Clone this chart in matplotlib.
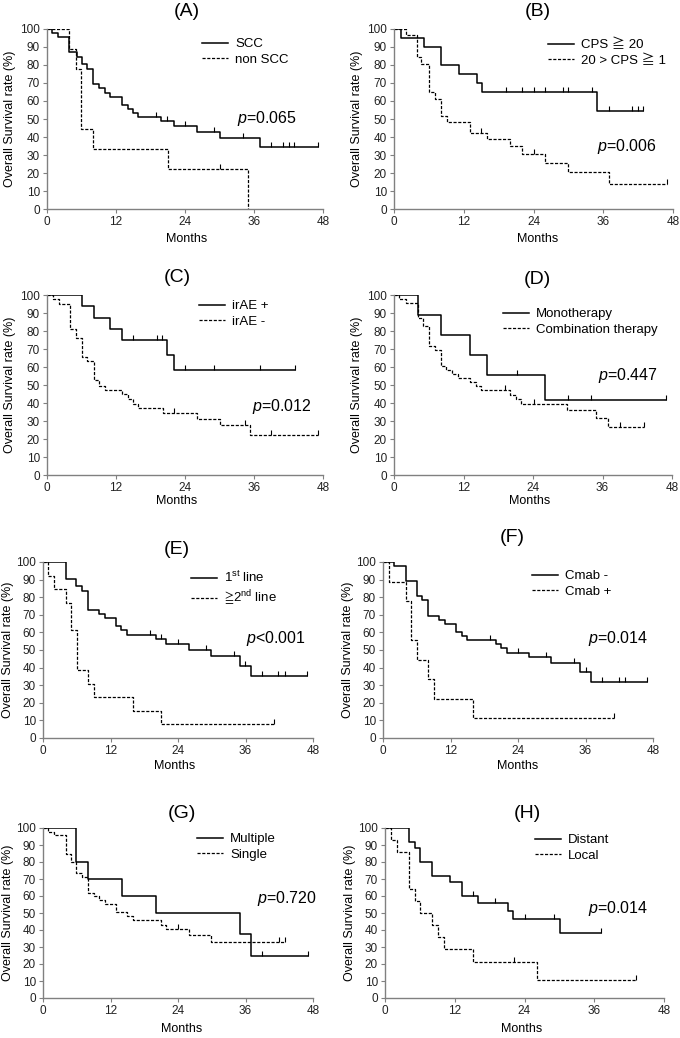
import numpy as np
import matplotlib
matplotlib.use("Agg")
import matplotlib.pyplot as plt

plt.rcParams['font.family'] = ['Liberation Sans', 'Noto Sans CJK JP', 'DejaVu Sans']
plt.rcParams['mathtext.fontset'] = 'custom'
plt.rcParams['mathtext.rm'] = 'Liberation Sans'
plt.rcParams['mathtext.it'] = 'Liberation Sans:italic'
plt.rcParams['mathtext.fallback'] = 'stixsans'

# ---- data: event times (months), survival after each event (%), censor times ----
# (A) SCC vs non SCC
a_solid_t = [0.9, 1.85, 3.9, 5.2, 6.1, 6.9, 8.0, 9.1, 10.0, 10.9, 13.1, 14.0, 14.9, 15.9, 19.9, 22.0, 26.0, 30.0, 37.1]
a_solid_s = [97.8, 95.6, 87.0, 84.6, 80.5, 78.0, 69.3, 67.1, 64.6, 62.4, 57.9, 55.7, 53.5, 51.2, 48.9, 46.0, 42.7, 39.4, 34.2]
a_solid_c = [19.0, 20.8, 24.0, 29.0, 34.0, 39.0, 41.0, 42.0, 43.0, 47.1]
a_dash_t = [3.9, 5.0, 5.9, 8.0, 21.0, 35.0]
a_dash_s = [88.9, 77.8, 44.4, 33.3, 22.2, 0.0]
a_dash_c = [30.0]

# (B) CPS
b_solid_t = [1.15, 5.1, 8.1, 11.1, 14.2, 15.1, 35.0]
b_solid_s = [95.0, 90.0, 80.0, 75.0, 70.0, 65.0, 54.2]
b_solid_c = [19.2, 22.0, 24.1, 26.0, 29.0, 30.0, 34.0, 37.0, 40.9, 41.9, 42.8]
b_dash_t = [2.0, 4.0, 4.6, 6.0, 7.1, 8.1, 9.1, 13.1, 16.0, 20.0, 22.0, 26.0, 30.0, 37.0]
b_dash_s = [96.8, 84.4, 80.6, 64.8, 61.3, 51.9, 48.4, 42.0, 38.8, 35.0, 30.8, 25.8, 20.6, 14.1]
b_dash_c = [15.0, 24.0, 46.9]

# (C) irAE
c_solid_t = [6.07, 8.1, 11.0, 13.0, 20.9, 22.0]
c_solid_s = [93.75, 87.5, 81.25, 75.0, 66.7, 58.3]
c_solid_c = [15.0, 19.1, 20.0, 24.0, 29.0, 37.0, 43.1]
c_dash_t = [1.0, 2.0, 4.0, 5.1, 6.1, 7.0, 8.1, 9.1, 10.1, 13.0, 14.0, 15.0, 15.9, 20.1, 26.0, 30.1, 35.3]
c_dash_s = [97.9, 94.9, 81.1, 76.3, 65.7, 63.4, 52.8, 49.6, 47.4, 45.0, 42.3, 39.6, 37.0, 34.3, 31.1, 28.0, 22.2]
c_dash_c = [22.0, 34.4, 39.0, 47.1]

# (D) mono vs combination
d_solid_t = [4.15, 8.1, 13.1, 16.0, 26.1]
d_solid_s = [88.9, 77.8, 66.7, 55.6, 41.7]
d_solid_c = [21.2, 30.1, 34.0, 47.0]
d_dash_t = [0.9, 2.1, 4.15, 5.0, 6.06, 7.0, 8.1, 9.06, 10.1, 11.1, 13.1, 14.1, 15.1, 20.0, 21.0, 22.0, 29.9, 34.9, 37.0]
d_dash_s = [97.8, 95.7, 87.4, 82.8, 71.9, 69.3, 60.6, 58.3, 56.1, 54.0, 51.7, 49.4, 47.0, 44.6, 42.2, 39.4, 36.0, 31.5, 26.9]
d_dash_c = [19.2, 24.1, 39.0, 43.1]

# (E) line of therapy
e_solid_t = [4.0, 5.9, 7.0, 8.0, 10.0, 11.0, 12.9, 13.9, 15.0, 20.0, 21.9, 26.0, 29.9, 35.0, 36.9]
e_solid_s = [90.5, 86.2, 83.3, 72.9, 70.6, 68.4, 63.4, 61.2, 58.7, 56.0, 53.2, 49.8, 46.6, 41.1, 35.4]
e_solid_c = [19.0, 21.0, 24.0, 29.0, 34.0, 35.9, 39.0, 41.8, 43.0, 46.9]
e_dash_t = [0.9, 2.0, 4.0, 5.0, 6.0, 8.0, 9.0, 16.0, 21.0]
e_dash_s = [92.3, 84.6, 76.9, 61.5, 38.5, 30.8, 23.1, 15.4, 7.7]
e_dash_c = [41.0]

# (F) Cmab
f_solid_t = [2.0, 4.0, 6.0, 7.0, 8.0, 10.0, 11.0, 12.9, 14.0, 15.0, 20.0, 21.0, 22.0, 26.0, 29.9, 35.0, 37.0]
f_solid_s = [97.7, 89.2, 80.5, 78.2, 69.1, 66.9, 64.6, 60.0, 58.0, 55.7, 53.2, 51.0, 48.5, 45.8, 42.4, 37.5, 31.6]
f_solid_c = [19.0, 24.0, 29.0, 34.0, 36.0, 39.0, 42.0, 43.0, 46.9]
f_dash_t = [1.0, 4.0, 5.0, 6.0, 8.0, 9.0, 16.0]
f_dash_s = [88.9, 77.8, 55.6, 44.4, 33.3, 22.2, 11.1]
f_dash_c = [41.0]

# (G) multiple vs single
g_solid_t = [5.9, 8.0, 14.0, 20.0, 35.0, 37.0]
g_solid_s = [80.0, 70.0, 60.0, 50.0, 37.5, 25.0]
g_solid_c = [39.0, 47.1]
g_dash_t = [0.9, 2.0, 4.0, 5.0, 5.9, 7.0, 8.0, 9.0, 10.0, 11.0, 12.9, 14.9, 16.0, 21.0, 21.9, 26.0, 29.9]
g_dash_s = [97.8, 95.6, 84.5, 80.0, 73.3, 71.1, 62.0, 59.8, 57.5, 55.2, 50.6, 48.3, 45.6, 43.2, 40.4, 37.3, 33.2]
g_dash_c = [24.0, 42.0, 43.1]

# (H) distant vs local
h_solid_t = [4.2, 5.2, 6.1, 8.1, 11.2, 13.2, 16.0, 21.2, 22.1, 30.1]
h_solid_s = [92.0, 88.0, 80.0, 72.0, 68.0, 60.0, 56.0, 51.3, 46.2, 38.5]
h_solid_c = [15.2, 19.0, 24.1, 29.1, 37.1]
h_dash_t = [1.0, 2.1, 4.2, 5.2, 6.1, 8.1, 9.2, 10.1, 15.2, 26.1]
h_dash_s = [92.9, 85.7, 64.3, 57.1, 50.0, 42.9, 35.7, 28.6, 21.4, 10.7]
h_dash_c = [22.2, 43.1]

titles = ['(A)', '(B)', '(C)', '(D)', '(E)', '(F)', '(G)', '(H)']
solid_labels = ['SCC', 'CPS \u2267 20', 'irAE +', 'Monotherapy', '1$^{\\mathrm{st}}$ line', 'Cmab -', 'Multiple', 'Distant']
dash_labels = ['non SCC', '20 > CPS \u2267 1', 'irAE -', 'Combination therapy', '$\\mathrm{\u2267}$2$^{\\mathrm{nd}}$ line', 'Cmab +', 'Single', 'Local']
pvalues = ['=0.065', '=0.006', '=0.012', '=0.447', '<0.001', '=0.014', '=0.720', '=0.014']

curves = [
    (a_solid_t, a_solid_s, a_solid_c, a_dash_t, a_dash_s, a_dash_c),
    (b_solid_t, b_solid_s, b_solid_c, b_dash_t, b_dash_s, b_dash_c),
    (c_solid_t, c_solid_s, c_solid_c, c_dash_t, c_dash_s, c_dash_c),
    (d_solid_t, d_solid_s, d_solid_c, d_dash_t, d_dash_s, d_dash_c),
    (e_solid_t, e_solid_s, e_solid_c, e_dash_t, e_dash_s, e_dash_c),
    (f_solid_t, f_solid_s, f_solid_c, f_dash_t, f_dash_s, f_dash_c),
    (g_solid_t, g_solid_s, g_solid_c, g_dash_t, g_dash_s, g_dash_c),
    (h_solid_t, h_solid_s, h_solid_c, h_dash_t, h_dash_s, h_dash_c),
]

# layout in pixels: axes (left, top, right, bottom), title xy, months xy, ylabel x,
# legend upper-left xy, p-value xy
W, H = 680, 1038
boxes = [(47, 29, 323, 209), (394, 29, 673, 209),
         (47, 295, 323, 475), (394, 295, 672, 475),
         (43, 562, 313, 738), (383, 562, 653, 738),
         (43, 828, 313, 998), (385, 828, 664, 998)]
title_xy = [(187, 12), (538, 12), (177, 278), (537, 280),
            (177, 549), (512, 538), (182, 813), (527, 813)]
months_xy = [(187, 239), (538, 239), (177, 501), (530, 501),
             (175, 766), (518, 766), (182, 1029), (522, 1029)]
ylab_x = [10, 357, 10, 357, 8, 348, 8, 350]
leg_xy = [(202, 38), (548, 39), (199, 300), (503, 308),
          (191, 570), (532, 570), (197, 833), (535, 834)]
p_xy = [(237, 118), (597, 146), (252, 407), (598, 375),
        (246, 639), (588, 638), (257, 898), (588, 908)]

GRAY = '#808080'


def fx(x):
    return x / W


def fy(y):
    return 1 - y / H


def km(ax, t, s, c, ls, lw):
    tt = np.array([0.0] + list(t))
    ss = np.array([100.0] + list(s))
    end = max(tt[-1], max(c) if c else 0)
    x = np.append(tt, end)
    y = np.append(ss, ss[-1])
    line, = ax.step(x, y, where='post', color='black', lw=lw, linestyle=ls)
    cy = ss[np.searchsorted(tt, c, side='right') - 1]
    ax.plot(c, cy, linestyle='none', marker=2, markersize=3.5, color='black', mew=0.8)
    return line


fig = plt.figure(figsize=(W / 100, H / 100), dpi=100)

for i in range(8):
    l, t, r, b = boxes[i]
    ax = fig.add_axes([fx(l), fy(b), (r - l) / W, (b - t) / H])
    st, ss, sc, dt, ds, dc = curves[i]
    h1 = km(ax, st, ss, sc, '-', 1.1)
    h2 = km(ax, dt, ds, dc, (0, (2.5, 1.3)), 0.9)

    ax.set_xlim(0, 48)
    ax.set_ylim(0, 100)
    ax.set_xticks([0, 12, 24, 36, 48])
    ax.set_yticks(np.arange(0, 101, 10))
    for side in ['top', 'right']:
        ax.spines[side].set_visible(False)
    for side in ['left', 'bottom']:
        ax.spines[side].set_color(GRAY)
        ax.spines[side].set_linewidth(1.0)
    ax.tick_params(direction='out', length=3, color=GRAY, labelsize=8.5, pad=2, labelcolor='#222222')

    fig.text(fx(title_xy[i][0]), fy(title_xy[i][1]), titles[i], fontsize=14, ha='center', va='center')
    fig.text(fx(months_xy[i][0]), fy(months_xy[i][1]), 'Months', fontsize=9, ha='center', va='center')
    fig.text(fx(ylab_x[i]), fy((t + b) / 2), 'Overall Survival rate (%)', fontsize=9,
             rotation=90, ha='center', va='center')
    fig.text(fx(p_xy[i][0]), fy(p_xy[i][1]), '$\\mathit{p}$' + pvalues[i], fontsize=11.5,
             ha='left', va='center')

    ax.legend([h1, h2], [solid_labels[i], dash_labels[i]], loc='upper left',
              bbox_to_anchor=(fx(leg_xy[i][0]), fy(leg_xy[i][1])), bbox_transform=fig.transFigure,
              frameon=False, fontsize=9.5, borderpad=0, borderaxespad=0,
              handlelength=2.0, handletextpad=0.5, labelspacing=0.25)

fig.savefig('out.png', dpi=100)
